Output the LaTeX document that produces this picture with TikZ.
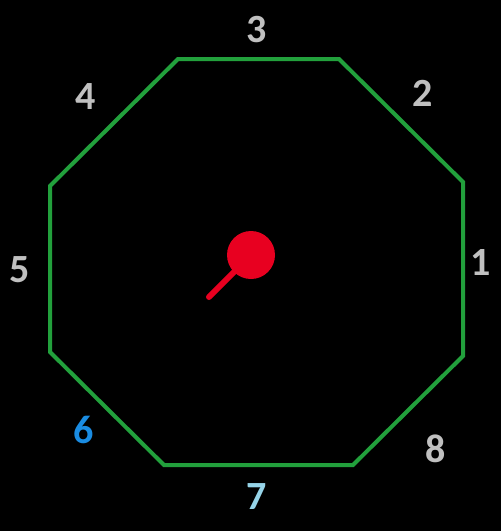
\documentclass[tikz,border=0pt]{standalone}
\usepackage{fontspec}
\setmainfont{Carlito}
\usepackage{xcolor}
\definecolor{octgreen}{RGB}{34,160,60}
\definecolor{dialred}{RGB}{232,0,32}
\definecolor{numgray}{RGB}{192,192,192}
\definecolor{numblue}{RGB}{26,140,226}
\definecolor{numcyan}{RGB}{150,212,232}
\tikzset{
  num/.style={inner sep=0pt, font=\fontsize{40}{40}\selectfont\bfseries, text=numgray},
}

\begin{document}
\begin{tikzpicture}[x=1pt,y=-1pt]
\fill [black] (0,0) rectangle (501,531);
\useasboundingbox (0,0) rectangle (501,531);
% octagon corners
\coordinate (c1) at (178,59);
\coordinate (c2) at (339,59);
\coordinate (c3) at (463,182);
\coordinate (c4) at (463,356);
\coordinate (c5) at (353,465);
\coordinate (c6) at (164,465);
\coordinate (c7) at (50,352);
\coordinate (c8) at (50,186);
\draw [octgreen, line width=4pt, line join=miter] (c1) -- (c2) -- (c3) -- (c4) -- (c5) -- (c6) -- (c7) -- (c8) -- cycle;
% pointer
\node (hub) [circle, fill=dialred, minimum size=48pt, inner sep=0pt] at (251,255) {};
\coordinate (tip) at (209,297);
\draw [dialred, line width=6pt, line cap=round] (tip) -- (hub.center);
% sides
\node (n3) [num] at (257,30) {3};
\node (n2) [num] at (423,93) {2};
\node (n4) [num] at (86,97) {4};
\node (n5) [num] at (20,270) {5};
\node (n1) [num] at (481,263) {1};
\node (n6) [num, text=numblue] at (84,430) {6};
\node (n8) [num] at (436,449) {8};
\node (n7) [num, text=numcyan] at (257,497) {7};
\end{tikzpicture}
\end{document}
